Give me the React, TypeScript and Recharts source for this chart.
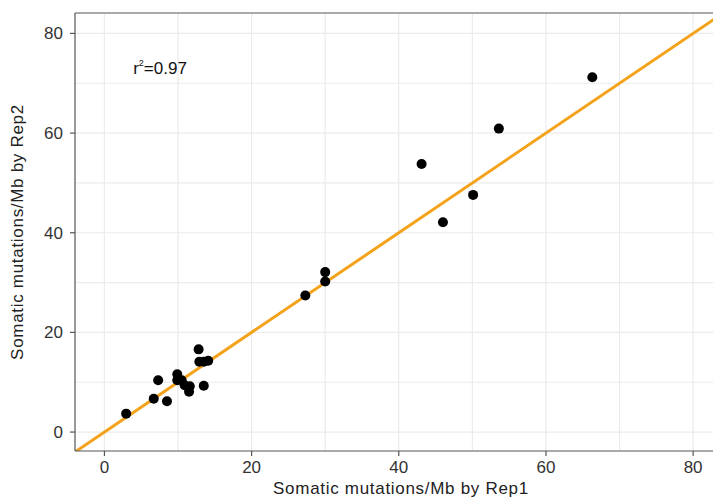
import {FC} from "react";
import {ScatterChart, Scatter, CartesianGrid, XAxis, YAxis, ReferenceLine, ReferenceDot} from 'recharts';

// somatic mutations per Mb, replicate 1 vs replicate 2
const rep1: number[] = [66.3, 53.6, 43.1, 50.1, 46.0, 30.0, 30.0, 27.3, 2.95, 6.7, 8.5, 7.3, 9.9, 9.9, 10.5, 10.9, 11.6, 11.5, 13.5, 12.8, 12.9, 13.5, 14.1];
const rep2: number[] = [71.2, 60.9, 53.8, 47.6, 42.1, 32.1, 30.2, 27.4, 3.7, 6.7, 6.2, 10.4, 11.6, 10.4, 10.4, 9.4, 9.2, 8.1, 9.3, 16.6, 14.1, 14.1, 14.3];

const xTicks: number[] = [0, 20, 40, 60, 80];
const yTicks: number[] = [0, 20, 40, 60, 80];
const gridValues: number[] = [0, 10, 20, 30, 40, 50, 60, 70, 80];

const xDomain: [number, number] = [-4, 82.7];
const yDomain: [number, number] = [-3.8, 84.1];

// fitted line y = x
const fitLine = [{x: -4, y: -4}, {x: 84, y: 84}];
const rSquared = '0.97';
const rLabelAt = {x: 3.9, y: 71.8};

const FONT = '"Liberation Sans", Arial, sans-serif';

const App: FC = () => {

    const points = rep1.map((v, i) => ({x: v, y: rep2[i]}));

    return (
        <div style={{position: 'absolute', left: 0, top: 0}}>
            <ScatterChart width={713} height={500} margin={{top: 13, right: 0, bottom: 0, left: 0}}
                          style={{fontFamily: FONT}}>
                <CartesianGrid stroke="#ebebeb" strokeWidth={1.2}
                               verticalValues={gridValues} horizontalValues={gridValues}/>
                <XAxis type="number" dataKey="x" domain={xDomain} ticks={xTicks} allowDataOverflow
                       height={49} tickSize={5} tickMargin={5}
                       stroke="#555" strokeWidth={1.2}
                       tick={{fill: '#333', fontSize: 17}}
                       label={{value: 'Somatic mutations/Mb by Rep1', position: 'insideBottom', offset: 6,
                           dx: 7, fill: '#222', fontSize: 17, style: {letterSpacing: 0.7}}}/>
                <YAxis type="number" dataKey="y" domain={yDomain} ticks={yTicks} allowDataOverflow
                       width={75} tickSize={5} tickMargin={7}
                       stroke="#555" strokeWidth={1.2}
                       tick={{fill: '#333', fontSize: 17}}
                       label={{value: 'Somatic mutations/Mb by Rep2', angle: -90, position: 'insideLeft', offset: 17,
                           fill: '#222', fontSize: 17, style: {textAnchor: 'middle', letterSpacing: 0.7}}}/>
                <ReferenceLine y={yDomain[1]} stroke="#555" strokeWidth={1.2}/>
                <ReferenceLine segment={fitLine} stroke="#f5a21b" strokeWidth={3} ifOverflow="hidden"/>
                <Scatter data={points} fill="#000" isAnimationActive={false}
                         shape={(p: any) => <circle cx={p.cx} cy={p.cy} r={5} fill="#000"/>}/>
                <ReferenceDot x={rLabelAt.x} y={rLabelAt.y} r={0}
                              shape={(p: any) => (
                                  <text x={p.cx} y={p.cy} fontSize={17} fill="#111" fontFamily={FONT}>
                                      r<tspan dy={-8} fontSize={9}>2</tspan><tspan dy={8}>={rSquared}</tspan>
                                  </text>
                              )}/>
            </ScatterChart>
        </div>
    );
};

export default App;
